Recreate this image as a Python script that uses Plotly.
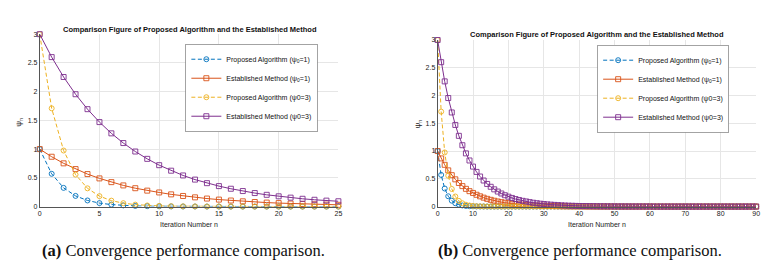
import plotly.graph_objects as go

# ---------------- data ----------------
n_iter = list(range(91))

proposed_psi1 = [
    1.000, 0.570, 0.325, 0.185, 0.106, 0.060, 0.034, 0.020, 0.011, 0.006,
    0.004, 0.002, 0.001, 0.001, 0.000, 0.000, 0.000, 0.000, 0.000, 0.000,
    0.000, 0.000, 0.000, 0.000, 0.000, 0.000, 0.000, 0.000, 0.000, 0.000,
    0.000, 0.000, 0.000, 0.000, 0.000, 0.000, 0.000, 0.000, 0.000, 0.000,
    0.000, 0.000, 0.000, 0.000, 0.000, 0.000, 0.000, 0.000, 0.000, 0.000,
    0.000, 0.000, 0.000, 0.000, 0.000, 0.000, 0.000, 0.000, 0.000, 0.000,
    0.000, 0.000, 0.000, 0.000, 0.000, 0.000, 0.000, 0.000, 0.000, 0.000,
    0.000, 0.000, 0.000, 0.000, 0.000, 0.000, 0.000, 0.000, 0.000, 0.000,
    0.000, 0.000, 0.000, 0.000, 0.000, 0.000, 0.000, 0.000, 0.000, 0.000,
    0.000,
]

established_psi1 = [
    1.000, 0.867, 0.752, 0.652, 0.565, 0.490, 0.425, 0.368, 0.319, 0.277,
    0.245, 0.212, 0.184, 0.160, 0.139, 0.121, 0.105, 0.091, 0.079, 0.069,
    0.060, 0.052, 0.045, 0.039, 0.034, 0.030, 0.026, 0.022, 0.019, 0.016,
    0.014, 0.012, 0.010, 0.009, 0.008, 0.007, 0.006, 0.005, 0.004, 0.004,
    0.003, 0.003, 0.002, 0.002, 0.002, 0.001, 0.001, 0.001, 0.001, 0.001,
    0.001, 0.000, 0.000, 0.000, 0.000, 0.000, 0.000, 0.000, 0.000, 0.000,
    0.000, 0.000, 0.000, 0.000, 0.000, 0.000, 0.000, 0.000, 0.000, 0.000,
    0.000, 0.000, 0.000, 0.000, 0.000, 0.000, 0.000, 0.000, 0.000, 0.000,
    0.000, 0.000, 0.000, 0.000, 0.000, 0.000, 0.000, 0.000, 0.000, 0.000,
    0.000,
]

proposed_psi3 = [
    3.000, 1.710, 0.975, 0.556, 0.317, 0.181, 0.103, 0.059, 0.033, 0.019,
    0.011, 0.006, 0.004, 0.002, 0.001, 0.001, 0.000, 0.000, 0.000, 0.000,
    0.000, 0.000, 0.000, 0.000, 0.000, 0.000, 0.000, 0.000, 0.000, 0.000,
    0.000, 0.000, 0.000, 0.000, 0.000, 0.000, 0.000, 0.000, 0.000, 0.000,
    0.000, 0.000, 0.000, 0.000, 0.000, 0.000, 0.000, 0.000, 0.000, 0.000,
    0.000, 0.000, 0.000, 0.000, 0.000, 0.000, 0.000, 0.000, 0.000, 0.000,
    0.000, 0.000, 0.000, 0.000, 0.000, 0.000, 0.000, 0.000, 0.000, 0.000,
    0.000, 0.000, 0.000, 0.000, 0.000, 0.000, 0.000, 0.000, 0.000, 0.000,
    0.000, 0.000, 0.000, 0.000, 0.000, 0.000, 0.000, 0.000, 0.000, 0.000,
    0.000,
]

established_psi3 = [
    3.000, 2.601, 2.255, 1.955, 1.695, 1.470, 1.274, 1.105, 0.958, 0.830,
    0.720, 0.624, 0.541, 0.469, 0.407, 0.356, 0.310, 0.270, 0.235, 0.204,
    0.178, 0.155, 0.135, 0.118, 0.103, 0.092, 0.080, 0.069, 0.060, 0.052,
    0.045, 0.039, 0.034, 0.030, 0.026, 0.022, 0.019, 0.016, 0.014, 0.012,
    0.010, 0.009, 0.008, 0.007, 0.006, 0.005, 0.004, 0.004, 0.003, 0.003,
    0.002, 0.002, 0.002, 0.002, 0.001, 0.001, 0.001, 0.001, 0.001, 0.001,
    0.001, 0.000, 0.000, 0.000, 0.000, 0.000, 0.000, 0.000, 0.000, 0.000,
    0.000, 0.000, 0.000, 0.000, 0.000, 0.000, 0.000, 0.000, 0.000, 0.000,
    0.000, 0.000, 0.000, 0.000, 0.000, 0.000, 0.000, 0.000, 0.000, 0.000,
    0.000,
]

left_count = 26  # panel (a) shows n = 0 .. 25

series_names = [
    "Proposed Algorithm (ψ<sub>0</sub>=1)",
    "Established Method (ψ<sub>0</sub>=1)",
    "Proposed Algorithm (ψ0=3)",
    "Established Method (ψ0=3)",
]
series_values = [proposed_psi1, established_psi1, proposed_psi3, established_psi3]

title_text = "Comparison Figure of Proposed Algorithm and the Established Method"
x_title = "Iteration Number n"
y_title = "ψ<sub>n</sub>"
captions = ["<b>(a)</b> Convergence performance comparison.",
            "<b>(b)</b> Convergence performance comparison."]

# ---------------- styles ----------------
colors = ["#0072BD", "#D95319", "#EDB120", "#7E2F8E"]
dashes = ["4px,2.5px", "solid", "4px,2.5px", "solid"]
symbols = ["circle-open", "square-open", "circle-open", "square-open"]
SANS = "Liberation Sans, Arial, sans-serif"
SERIF = "Liberation Serif, Times New Roman, serif"
W, H = 779, 267

fig = go.Figure()

panels = [
    dict(xa="x", ya="y", legend="legend", count=left_count),
    dict(xa="x2", ya="y2", legend="legend2", count=len(n_iter)),
]

for p in panels:
    for name, vals, c, d, s in zip(series_names, series_values, colors, dashes, symbols):
        fig.add_trace(go.Scatter(
            x=n_iter[:p["count"]], y=vals[:p["count"]],
            xaxis=p["xa"], yaxis=p["ya"], legend=p["legend"],
            name=name, mode="lines+markers",
            line=dict(color=c, width=1, dash=d),
            marker=dict(symbol=s, size=5, color=c, line=dict(width=0.9, color=c)),
            cliponaxis=False,
        ))

axis_common = dict(
    showgrid=True, gridcolor="#e6e6e6", gridwidth=0.8,
    zeroline=False, showline=True, linecolor="#555555", linewidth=0.8,
    ticks="", tickfont=dict(family=SANS, size=7, color="#222222"),
)

legend_common = dict(
    xanchor="right", yanchor="top",
    bgcolor="white", bordercolor="#8c8c8c", borderwidth=0.8,
    font=dict(family=SANS, size=7, color="#111111"),
    tracegroupgap=0, itemwidth=30,
)

fig.update_layout(
    width=W, height=H,
    margin=dict(l=0, r=0, t=0, b=0),
    paper_bgcolor="white", plot_bgcolor="white",
    showlegend=True,
    xaxis=dict(domain=[38 / W, 339 / W], range=[0, 25], dtick=5, anchor="y", **axis_common),
    yaxis=dict(domain=[1 - 208 / H, 1 - 31 / H], range=[0, 3], dtick=0.5, anchor="x", **axis_common),
    xaxis2=dict(domain=[439 / W, 760 / W], range=[0, 90], dtick=10, anchor="y2", **axis_common),
    yaxis2=dict(domain=[1 - 208 / H, 1 - 37 / H], range=[0, 3], dtick=0.5, anchor="x2", **axis_common),
    legend=dict(x=318 / W, y=1 - 41 / H, **legend_common),
    legend2=dict(x=733 / W, y=1 - 42 / H, **legend_common),
)

ann = []
# titles
for cx, cy in [(189, 26), (600, 31)]:
    ann.append(dict(text="<b>" + title_text + "</b>", x=cx / W, y=1 - cy / H,
                    xref="paper", yref="paper", showarrow=False,
                    xanchor="center", yanchor="middle",
                    font=dict(family=SANS, size=7.5, color="#111111")))
# x-axis titles
for cx in [188, 600]:
    ann.append(dict(text=x_title, x=cx / W, y=1 - 226 / H, xref="paper", yref="paper",
                    showarrow=False, xanchor="center", yanchor="middle",
                    font=dict(family=SANS, size=7, color="#222222")))
# y-axis titles
for cx, cy in [(17, 121), (419, 123)]:
    ann.append(dict(text=y_title, x=cx / W, y=1 - cy / H, xref="paper", yref="paper",
                    showarrow=False, xanchor="center", yanchor="middle", textangle=-90,
                    font=dict(family=SANS, size=8, color="#222222")))
# captions
for cx, txt in zip([183, 582], captions):
    ann.append(dict(text=txt, x=cx / W, y=1 - 253 / H, xref="paper", yref="paper",
                    showarrow=False, xanchor="center", yanchor="middle",
                    font=dict(family=SERIF, size=16.5, color="#111111")))
fig.update_layout(annotations=ann)

fig.write_html(
    "out.html",
    config={"displayModeBar": False},
    post_script="document.body.style.margin='0';document.body.style.padding='0';",
)
